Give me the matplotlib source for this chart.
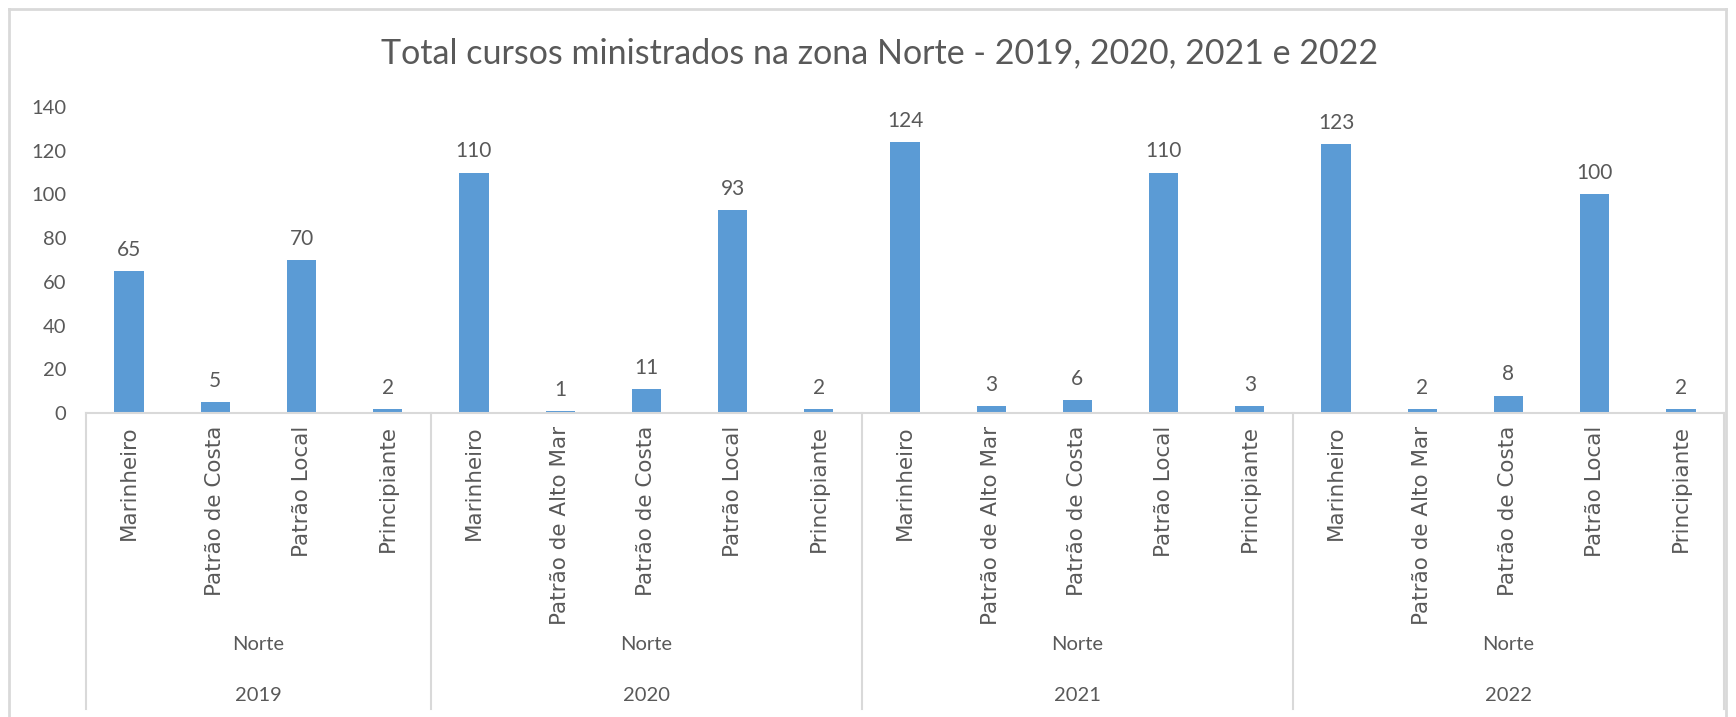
import matplotlib
matplotlib.use("Agg")
import matplotlib.pyplot as plt
from matplotlib.lines import Line2D

# data
years = ["2019", "2020", "2021", "2022"]
zone = "Norte"
cursos_2019 = ["Marinheiro", "Patrão de Costa", "Patrão Local", "Principiante"]
cursos_outros = ["Marinheiro", "Patrão de Alto Mar", "Patrão de Costa", "Patrão Local", "Principiante"]
valores_2019 = [65, 5, 70, 2]
valores_2020 = [110, 1, 11, 93, 2]
valores_2021 = [124, 3, 6, 110, 3]
valores_2022 = [123, 2, 8, 100, 2]

groups = [
    (years[0], cursos_2019, valores_2019),
    (years[1], cursos_outros, valores_2020),
    (years[2], cursos_outros, valores_2021),
    (years[3], cursos_outros, valores_2022),
]

BLUE = "#5B9BD5"
GREY = "#595959"
LINE = "#D9D9D9"
CAL = ["Lato", "DejaVu Sans"]
ROT = ["DejaVu Sans"]

labels = []
values = []
bounds = [0]
for year, cats, vals in groups:
    labels += cats
    values += vals
    bounds.append(bounds[-1] + len(cats))
x = list(range(len(values)))

fig = plt.figure(figsize=(17.36, 7.17), dpi=100)
ax = fig.add_axes([86 / 1736, 304 / 717, 1638 / 1736, 306 / 717])

bars = ax.bar(x, values, width=0.34, color=BLUE, zorder=2)
for xi, v in zip(x, values):
    ax.annotate(str(v), (xi, v), xytext=(0, 8), textcoords="offset points",
                ha="center", va="bottom", fontsize=15, color=GREY, family=CAL)

ax.set_xlim(-0.5, len(values) - 0.5)
ax.set_ylim(0, 140)
ax.set_yticks(range(0, 141, 20))
ax.tick_params(axis="y", length=0, pad=14, labelsize=14.5, labelcolor=GREY)
for t in ax.get_yticklabels():
    t.set_family(CAL)

ax.set_xticks(x)
ax.set_xticklabels(labels, rotation=90, va="top", ha="center",
                   fontsize=15.5, color=GREY, family=ROT)
ax.tick_params(axis="x", length=0, pad=9)

for s in ["left", "right", "top"]:
    ax.spines[s].set_visible(False)
ax.spines["bottom"].set_color(LINE)
ax.spines["bottom"].set_linewidth(1.5)

tr = ax.get_xaxis_transform()
for b in bounds:
    ax.plot([b - 0.5, b - 0.5], [0, -0.967], transform=tr, color=LINE,
            lw=1.5, clip_on=False)
for i, (year, cats, vals) in enumerate(groups):
    mid = (bounds[i] + bounds[i + 1] - 1) / 2
    ax.text(mid, -0.758, zone, transform=tr, ha="center", va="center",
            fontsize=14.5, color=GREY, family=CAL)
    ax.text(mid, -0.922, year, transform=tr, ha="center", va="center",
            fontsize=14.5, color=GREY, family=CAL)

fig.text(880 / 1736, 1 - 53 / 717,
         "Total cursos ministrados na zona Norte - 2019, 2020, 2021 e 2022",
         ha="center", va="center", fontsize=24.5, color=GREY, family=CAL)

# outer chart border
fx0, fx1 = 9 / 1736, 1726 / 1736
fy1 = 1 - 9 / 717
for xs, ys in [([fx0, fx0], [0, fy1]), ([fx0, fx1], [fy1, fy1]), ([fx1, fx1], [fy1, 0])]:
    fig.add_artist(Line2D(xs, ys, color=LINE, lw=2))

fig.savefig("out.png", dpi=100)
